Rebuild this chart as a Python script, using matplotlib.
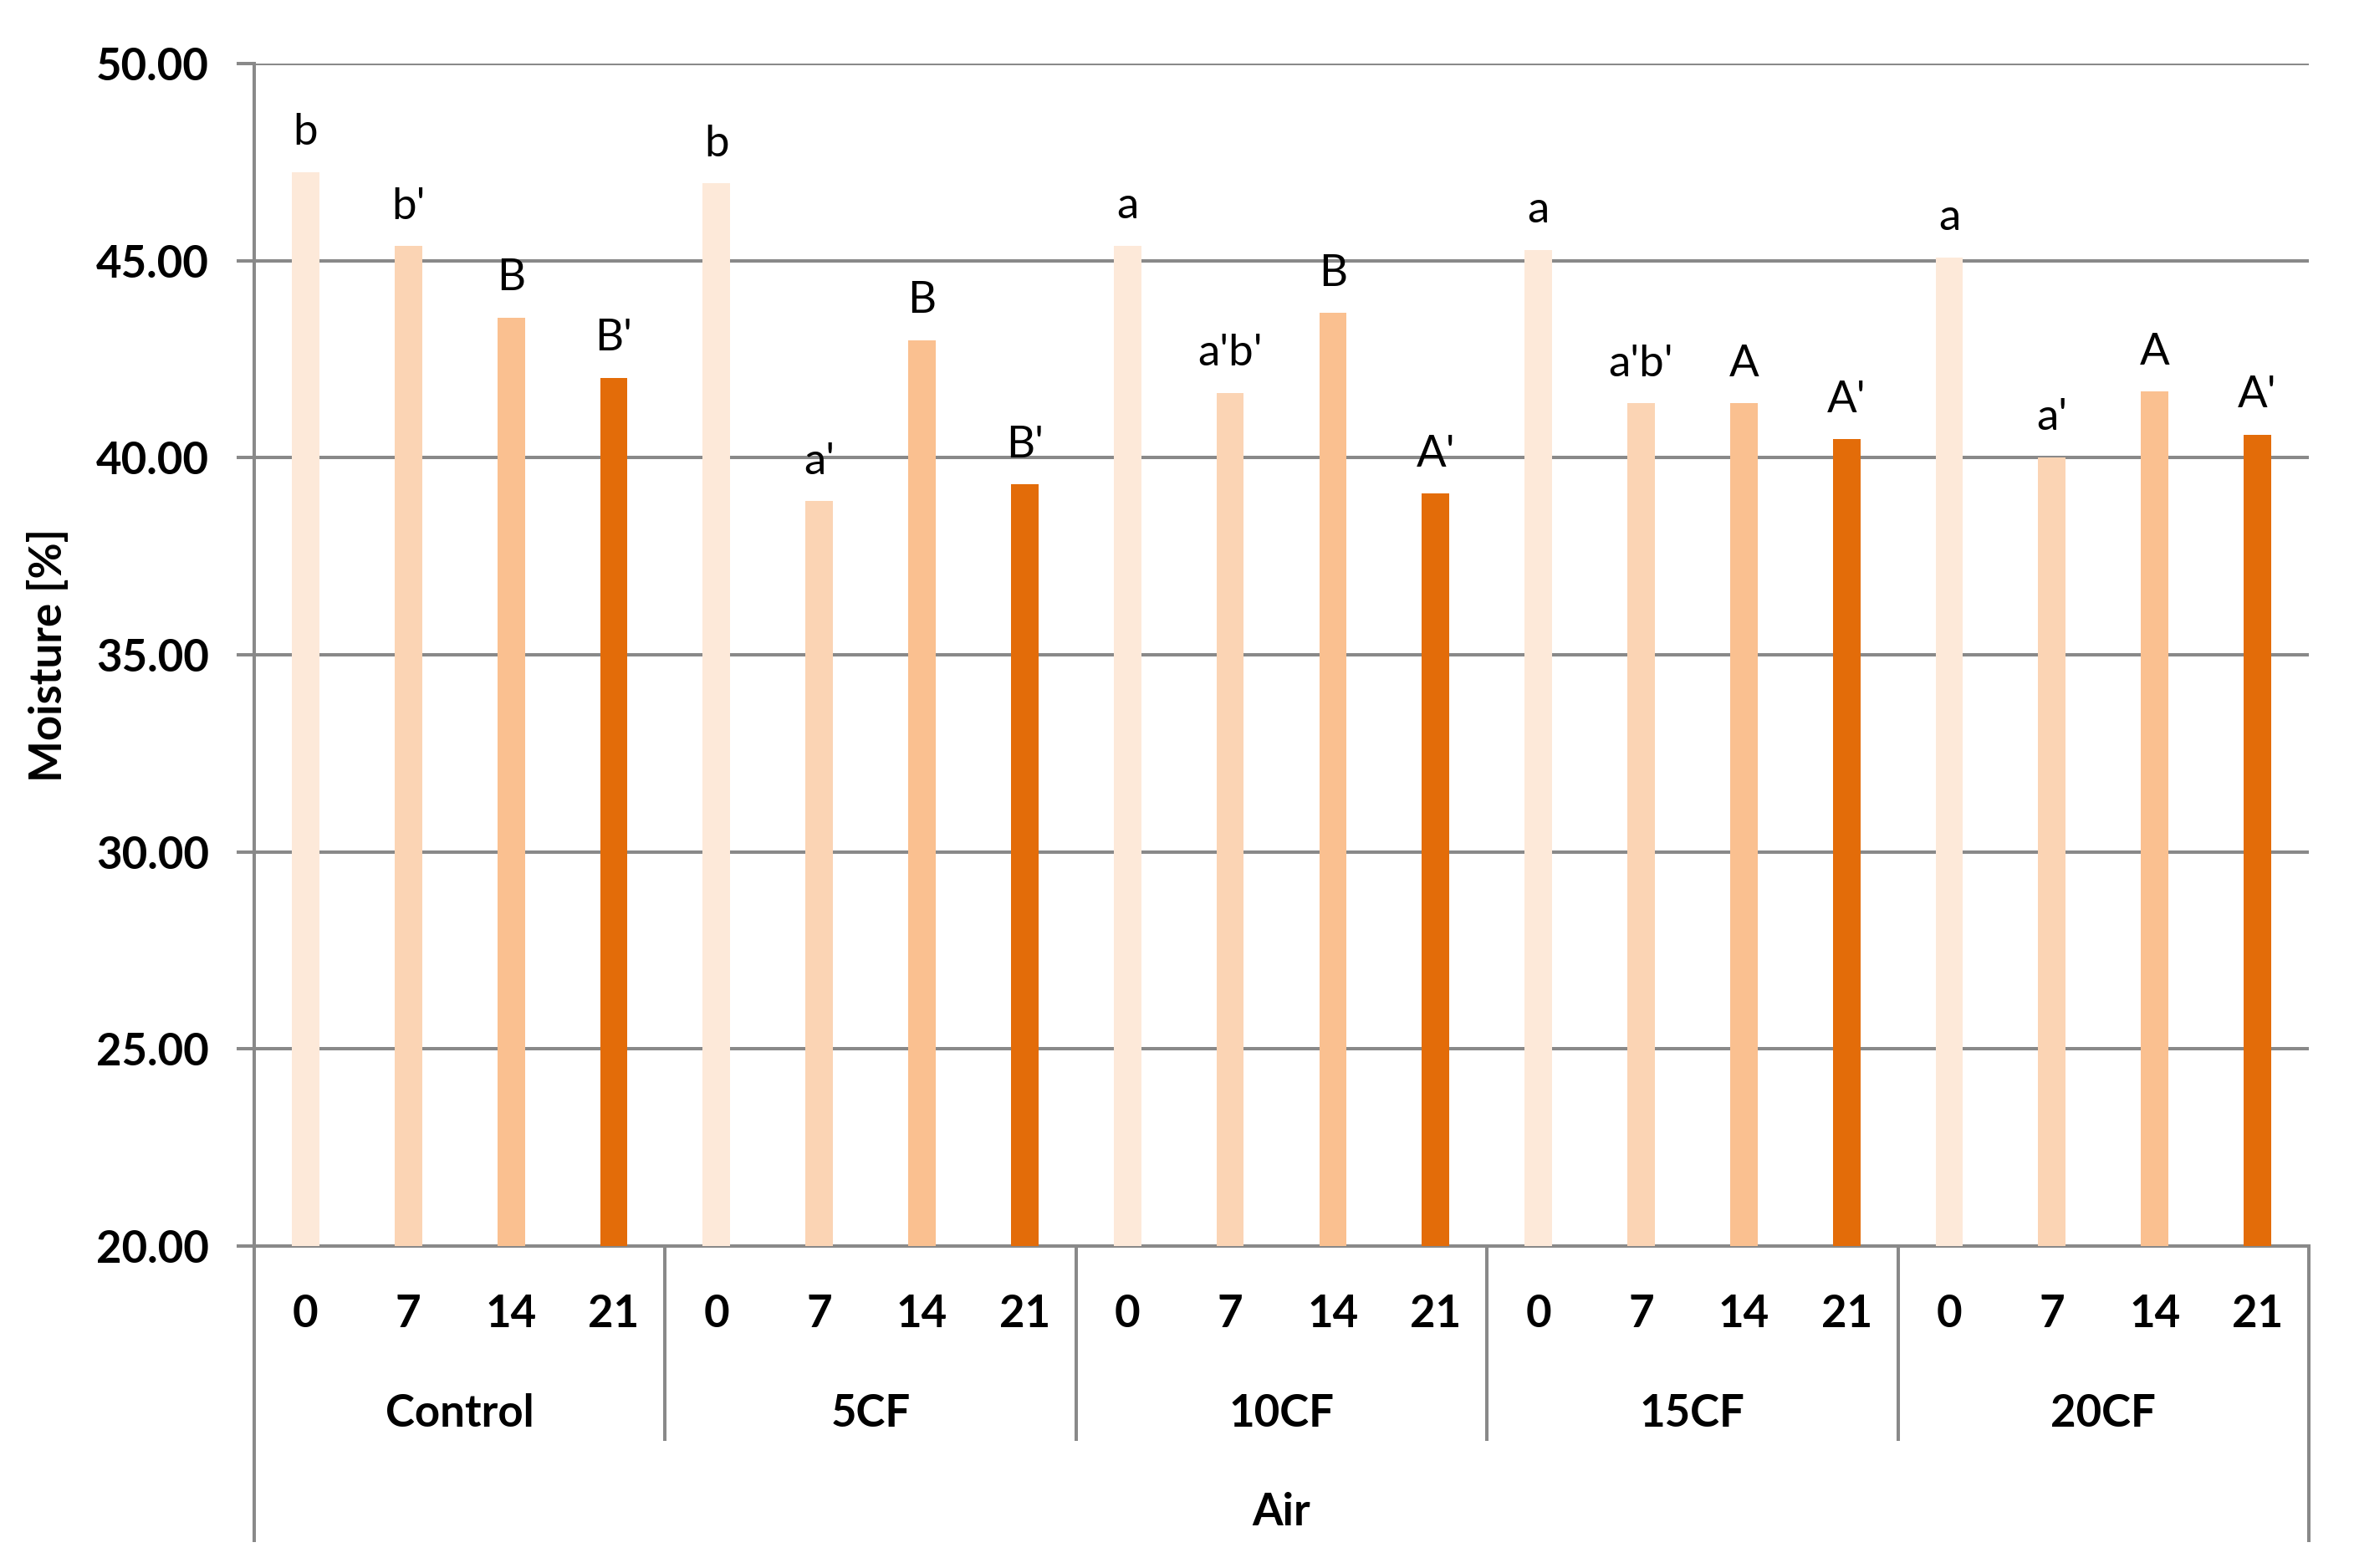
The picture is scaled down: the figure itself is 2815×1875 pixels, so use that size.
import matplotlib
matplotlib.use("Agg")
import matplotlib.pyplot as plt
import matplotlib.transforms as mtransforms

plt.rcParams['font.family'] = ['Lato', 'DejaVu Sans']

groups = ["Control", "5CF", "10CF", "15CF", "20CF"]
days = ["0", "7", "14", "21"]
day_colors = ["#FDE9D9", "#FBD4B4", "#FAC090", "#E36C09"]
moisture = [
    [47.24, 45.37, 43.55, 42.03],   # Control
    [46.96, 38.90, 42.98, 39.32],   # 5CF
    [45.38, 41.65, 43.67, 39.09],   # 10CF
    [45.27, 41.38, 41.38, 40.47],   # 15CF
    [45.08, 40.01, 41.68, 40.58],   # 20CF
]
letters = [
    ["b", "b'", "B", "B'"],
    ["b", "a'", "B", "B'"],
    ["a", "a'b'", "B", "A'"],
    ["a", "a'b'", "A", "A'"],
    ["a", "a'", "A", "A'"],
]
outer_label = "Air"
y_label = "Moisture [%]"
y_ticks = [20, 25, 30, 35, 40, 45, 50]

W, H = 2815, 1875
fig = plt.figure(figsize=(W / 100, H / 100), dpi=100)
ax = fig.add_axes([304 / W, 1 - 1490 / H, (2761 - 304) / W, (1490 - 76) / H])

gray = "#898989"
lw = 2.9
n_days = len(days)
xs, vals, cols, labs, ticklabs = [], [], [], [], []
for gi, g in enumerate(groups):
    for di in range(n_days):
        xs.append(gi * n_days + di)
        vals.append(moisture[gi][di])
        cols.append(day_colors[di])
        labs.append(letters[gi][di])
        ticklabs.append(days[di])

ax.bar(xs, [v - 20 for v in vals], bottom=20, width=0.267, color=cols, zorder=3)
for x, v, l in zip(xs, vals, labs):
    ax.annotate(l, (x, v), xytext=(0, 23.5), textcoords="offset points",
                ha="center", va="baseline", fontsize=38, color="black")

ax.set_xlim(-0.5, len(xs) - 0.5)
ax.set_ylim(20, 50)
ax.set_yticks(y_ticks)
ax.set_yticklabels([f"{t:.2f}" for t in y_ticks], fontsize=38, fontweight="bold")
ax.yaxis.grid(True, color=gray, linewidth=lw, zorder=0)
ax.set_axisbelow(True)
ax.tick_params(axis="y", length=15, width=lw, color=gray, pad=24)

ax.set_xticks(xs)
ax.set_xticklabels(ticklabs, fontsize=38, fontweight="bold")
ax.tick_params(axis="x", length=0, pad=41)

for s in ["top", "right"]:
    ax.spines[s].set_visible(False)
for s in ["left", "bottom"]:
    ax.spines[s].set_color(gray)
    ax.spines[s].set_linewidth(lw)

trans = mtransforms.blended_transform_factory(ax.transData, ax.transAxes)
for gi in range(1, len(groups)):
    xd = gi * n_days - 0.5
    ax.plot([xd, xd], [0, -0.1648], transform=trans, color=gray, lw=lw,
            clip_on=False, solid_capstyle="butt")
for xd in [-0.5, len(xs) - 0.5]:
    ax.plot([xd, xd], [0, -0.2504], transform=trans, color=gray, lw=lw,
            clip_on=False, solid_capstyle="butt")

for gi, g in enumerate(groups):
    xc = gi * n_days + (n_days - 1) / 2
    ax.text(xc, -0.1421, g, transform=trans, ha="center", va="center",
            fontsize=38, fontweight="bold")
ax.text((len(xs) - 1) / 2, -0.2249, outer_label, transform=trans, ha="center",
        va="center", fontsize=38, fontweight="bold")

fig.text(58 / W, 1 - 783 / H, y_label, rotation=90, ha="center", va="center",
         fontsize=38, fontweight="bold")

fig.savefig("out.png", dpi=100)
